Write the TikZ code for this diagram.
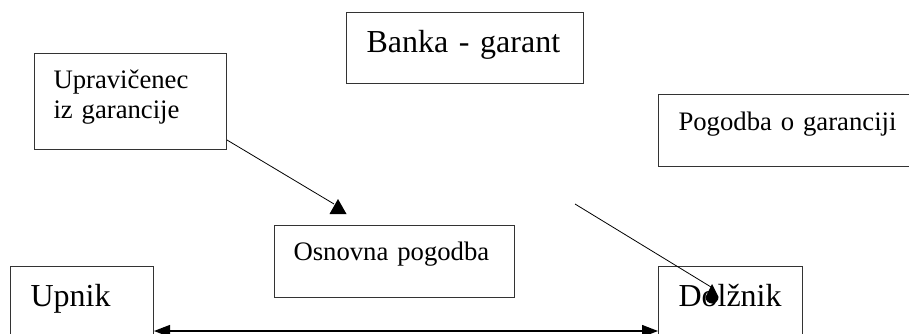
\documentclass[tikz,border=0pt]{standalone}
\usepackage{fontspec}
\setmainfont{Liberation Serif}
\usetikzlibrary{arrows.meta,calc}
\definecolor{boxgray}{HTML}{333333}

\begin{document}
\begin{tikzpicture}[
  x=1pt, y=-1pt,
  party/.style={rectangle, draw=boxgray, line width=1pt, anchor=north west, inner ysep=0pt, inner xsep=20pt, align=left},
  big/.style={font=\fontsize{32}{38}\selectfont, text height=40pt},
  small/.style={font=\fontsize{26.7}{30}\selectfont},
  link/.style={draw=black, line width=0.8pt},
  both/.style={{Triangle[length=16pt,width=12pt]}-{Triangle[length=16pt,width=12pt]}, line width=1.3pt}
]
  \clip (0,0) rectangle (909,334);

  \node[party, big, text depth=31pt, text width=197pt] (bank) at (346,12) {Banka - garant};
  \node[party, small, text height=35pt, text depth=61pt, inner xsep=19pt, text width=154pt] (upr) at (34,53) {Upravičenec\\iz garancije};
  \node[party, small, text height=36pt, text depth=36pt, text width=232pt] (pog) at (658,94) {Pogodba o garanciji};
  \node[party, small, text height=35pt, text depth=37pt, inner xsep=19pt, text width=202pt] (osn) at (274,225) {Osnovna pogodba};
  \node[party, big, text depth=50pt, text width=103pt] (upnik) at (10,266) {Upnik};
  \node[party, big, text depth=50pt, text width=104pt] (dolznik) at (658,266) {Dolžnik};

  \coordinate (t1) at (334,204);
  \draw[link] ([yshift=-87pt]upr.north east) -- (t1);
  \fill ($(t1)+(4,-5)$) -- ++(8.5,15) -- ++(-17,0) -- cycle;

  \coordinate (s2) at (575,204);
  \coordinate (t2) at (711,287);
  \draw[link] (s2) -- (t2);
  \fill ($(t2)+(1,-3)$) -- ++(6.5,13) arc[start angle=0, end angle=-180, radius=6.5pt] -- cycle;

  \draw[both] ([yshift=-65pt]upnik.north east) -- ([yshift=-65pt]dolznik.north west);
\end{tikzpicture}
\end{document}
